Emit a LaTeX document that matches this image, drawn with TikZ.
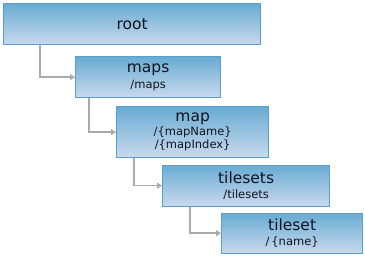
\documentclass[tikz,border=0pt]{standalone}
\usepackage{fontspec}
\setmainfont{DejaVu Sans}
\usetikzlibrary{arrows.meta}

\definecolor{boxtop}{RGB}{104,172,212}
\definecolor{boxbot}{RGB}{202,217,237}
\definecolor{boxline}{RGB}{88,160,204}
\definecolor{linkgray}{RGB}{170,170,170}
\definecolor{txt}{RGB}{20,20,30}

\newcommand{\ttl}[1]{{\fontsize{15.5}{17}\selectfont #1}}
\newcommand{\sub}[1]{{\fontsize{11.5}{13.5}\selectfont #1}}

\begin{document}
\begin{tikzpicture}[
  x=1pt,y=-1pt,
  level/.style={draw=boxline,line width=1.3pt,top color=boxtop,bottom color=boxbot,
    anchor=north west,align=center,inner sep=0pt,text=txt},
  link/.style={draw=linkgray,line width=1.4pt,-{Triangle[length=5pt,width=6pt]}}
]
  \useasboundingbox (0,0) rectangle (365,255);

  % Levels of the tree
  \node[level,minimum width=257,minimum height=41] (root) at (3,3) {\ttl{root}};
  \node[level,minimum width=145,minimum height=41] (maps) at (75,56)
    {\ttl{maps}\\[3.5pt]\sub{/maps}};
  \node[level,minimum width=152,minimum height=51] (map) at (116,106)
    {\ttl{map}\\[1.5pt]\sub{/\{mapName\}}\\[1.5pt]\sub{/\{mapIndex\}}};
  \node[level,minimum width=167,minimum height=41] (tilesets) at (162,164.5)
    {\ttl{tilesets}\\[3.5pt]\sub{/tilesets}};
  \node[level,minimum width=141,minimum height=40] (tileset) at (221,212.5)
    {\ttl{tileset}\\[3.5pt]\sub{/\,\{name\}}};

  % Connectors
  \draw[link] ([xshift=37]root.south west) |- (maps.west);
  \draw[link] ([xshift=14]maps.south west) |- (map.west);
  \draw[link] ([xshift=18]map.south west) |- (tilesets.west);
  \draw[link] ([xshift=28]tilesets.south west) |- (tileset.west);
\end{tikzpicture}
\end{document}
